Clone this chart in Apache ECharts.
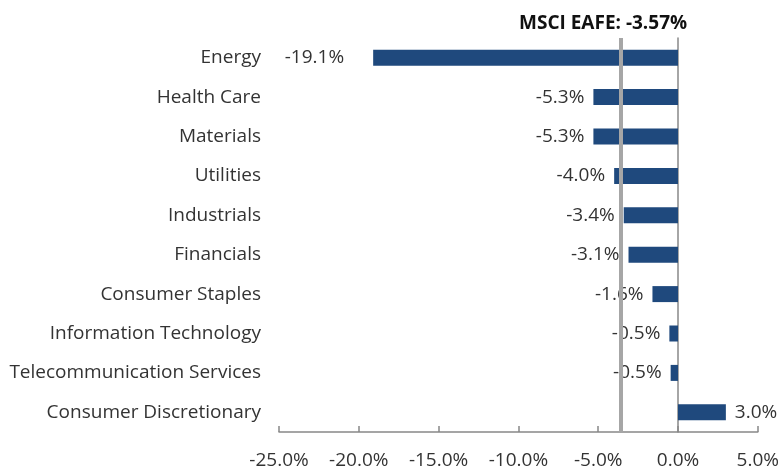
<!DOCTYPE html>
<html>
<head>
<meta charset="utf-8">
<script src="https://cdn.jsdelivr.net/npm/echarts@6/dist/echarts.min.js"></script>
<style>
  html, body { margin: 0; padding: 0; background: #fff; }
  #chart { width: 782px; height: 470px; }
</style>
</head>
<body>
<div id="chart"></div>
<script>
// sectors, top to bottom as drawn
const sectors = [
  'Energy', 'Health Care', 'Materials', 'Utilities', 'Industrials',
  'Financials', 'Consumer Staples', 'Information Technology',
  'Telecommunication Services', 'Consumer Discretionary'
]
// sector returns, %
const returns = [-19.1, -5.3, -5.3, -4.0, -3.4, -3.1, -1.6, -0.54, -0.46, 3.0]
// benchmark return, %
const benchmark = -3.57
const benchmarkName = 'MSCI EAFE'

const FONT = '"Open Sans", sans-serif'
const TEXT = '#333'

const chart = echarts.init(document.getElementById('chart'))

chart.setOption({
  animation: false,
  textStyle: { fontFamily: FONT },
  title: {
    text: benchmarkName + ': ' + benchmark.toFixed(2) + '%',
    left: 514,
    top: 9,
    textStyle: { fontFamily: FONT, fontSize: 19, fontWeight: 'bold', color: '#111' }
  },
  grid: { left: 279, right: 23, top: 38, bottom: 38 },
  xAxis: {
    type: 'value',
    min: -25,
    max: 5,
    interval: 5,
    axisLine: { show: true, lineStyle: { color: '#888', width: 1.5 } },
    axisTick: { show: true, inside: true, length: 6, lineStyle: { color: '#888', width: 1.5 } },
    splitLine: { show: false },
    axisLabel: {
      color: TEXT, fontSize: 19, margin: 19,
      formatter: v => v.toFixed(1) + '%'
    }
  },
  yAxis: {
    type: 'category',
    inverse: true,
    data: sectors,
    axisLine: { show: true, onZero: true, lineStyle: { color: '#888', width: 1.5 } },
    axisTick: { show: false },
    axisLabel: { color: TEXT, fontSize: 19, margin: 18 }
  },
  series: [{
    type: 'bar',
    data: returns.map((v, i) => ({
      value: v,
      label: {
        position: v < 0 ? 'left' : 'right',
        distance: i === 0 ? 29 : 9
      }
    })),
    barWidth: 16,
    itemStyle: { color: '#1F497D' },
    label: {
      show: true,
      color: TEXT,
      fontSize: 19,
      formatter: p => p.value.toFixed(1) + '%'
    },
    markLine: {
      silent: true,
      symbol: 'none',
      lineStyle: { color: '#A6A6A6', width: 4, type: 'solid' },
      label: { show: false },
      data: [{ xAxis: benchmark }]
    }
  }]
})
</script>
</body>
</html>
